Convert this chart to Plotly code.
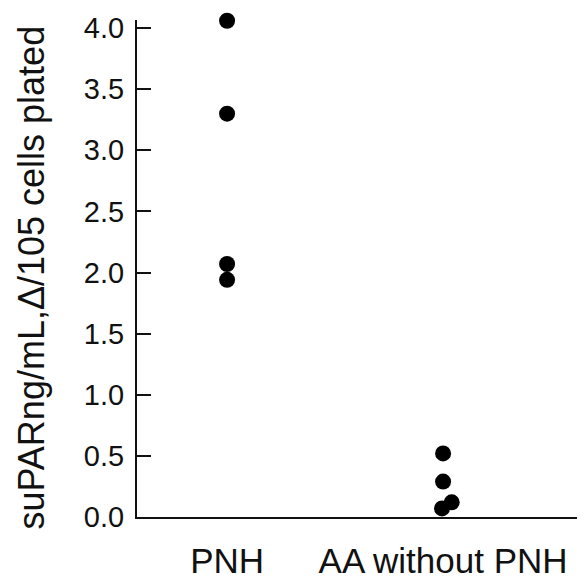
import plotly.graph_objects as go

categories = ["PNH", "AA without PNH"]
pnh_values = [4.06, 3.30, 2.07, 1.94]
aa_values = [0.52, 0.29, 0.12, 0.07]
# horizontal position of each dot within its group (1 = PNH, 2 = AA without PNH)
pnh_x = [1, 1, 1, 1]
aa_x = [2, 2, 2.04, 1.995]
y_ticks = [0.0, 0.5, 1.0, 1.5, 2.0, 2.5, 3.0, 3.5, 4.0]
y_title = "suPARng/mL,Δ/105 cells plated"

fig = go.Figure()
fig.add_trace(go.Scatter(x=pnh_x, y=pnh_values, mode="markers",
                         marker=dict(color="black", size=16), cliponaxis=False,
                         showlegend=False))
fig.add_trace(go.Scatter(x=aa_x, y=aa_values, mode="markers",
                         marker=dict(color="black", size=16), cliponaxis=False,
                         showlegend=False))

# the page body has an 8px default margin, so the figure is a little smaller
fig.update_layout(
    width=577, height=572,
    margin=dict(l=129, r=0, t=12, b=63),
    plot_bgcolor="white", paper_bgcolor="white",
    font=dict(family="Liberation Sans, Arial, sans-serif", color="#111"),
    xaxis=dict(range=[0.583, 2.657], tickvals=[1, 2], ticktext=categories,
               showgrid=False, zeroline=False, showline=True, linecolor="#111",
               linewidth=2, ticks="", tickfont=dict(size=35),
               ticklabelstandoff=12),
    yaxis=dict(range=[0, 4.066], tickvals=y_ticks,
               ticktext=[f"{v:.1f}" for v in y_ticks],
               showgrid=False, zeroline=False, showline=True, linecolor="#111",
               linewidth=2, ticks="inside", ticklen=14, tickwidth=2,
               tickcolor="#111", tickfont=dict(size=29), ticklabelstandoff=5),
    annotations=[dict(text=y_title, xref="paper", yref="paper", x=0, y=0.5,
                      xanchor="center", yanchor="middle", textangle=-90,
                      xshift=-106, yshift=-9, showarrow=False,
                      font=dict(size=36))],
)

fig.write_html("out.html")
